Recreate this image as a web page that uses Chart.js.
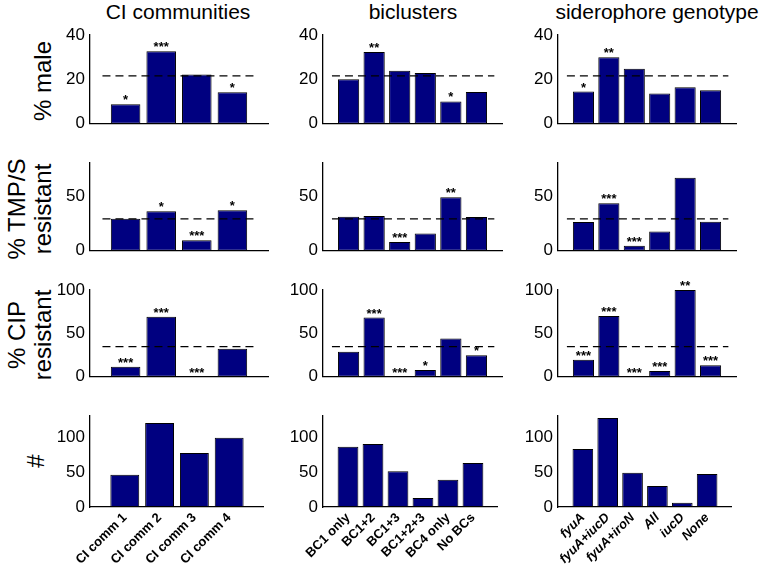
<!DOCTYPE html>
<html>
<head>
<meta charset="utf-8">
<script src="https://cdn.jsdelivr.net/npm/chart.js@4"></script>
<style>
    body { margin: 0; background: #fff; }
    #fig { position: relative; width: 776px; height: 568px; overflow: hidden; font-family: "Liberation Sans", Arial, sans-serif; color: #000; }
    #fig canvas { position: absolute; }
    .coltitle { position: absolute; top: 0; font-size: 21px; line-height: 24px; white-space: nowrap; transform: translateX(-50%); }
    .rowlabel { position: absolute; font-size: 24px; line-height: 26px; text-align: center; white-space: nowrap; transform: translate(-50%, -50%) rotate(-90deg); }
</style>
</head>
<body>
<div id="fig">
    <div class="coltitle" style="left:178px">CI communities</div>
    <div class="coltitle" style="left:413px">biclusters</div>
    <div class="coltitle" style="left:657px">siderophore genotype</div>
    <div class="rowlabel" style="left:43px; top:81px">% male</div>
    <div class="rowlabel" style="left:30px; top:209px">% TMP/S<br>resistant</div>
    <div class="rowlabel" style="left:30px; top:335px">% CIP<br>resistant</div>
    <div class="rowlabel" style="left:36px; top:461px">#</div>
</div>
<script>
// categorias de cada coluna
const ciLabels = ['CI comm 1', 'CI comm 2', 'CI comm 3', 'CI comm 4'];
const bcLabels = ['BC1 only', 'BC1+2', 'BC1+3', 'BC1+2+3', 'BC4 only', 'No BCs'];
const sidLabels = ['fyuA', 'fyuA+iucD', 'fyuA+iroN', 'All', 'iucD', 'None'];

// % male
const maleCI = [8.8, 32.7, 22.2, 14.2];
const maleBC = [20.1, 32.3, 23.9, 22.9, 10.1, 14.3];
const maleSid = [14.5, 30.0, 24.8, 13.6, 16.5, 15.1];
const maleRef = 21.6;
const maleStars = [['*', '***', '', '*'], ['', '**', '', '', '*', ''], ['*', '**', '', '', '', '']];

// % TMP/S resistant
const tmpCI = [29.1, 36.1, 9.6, 36.9];
const tmpBC = [31.1, 31.7, 8.1, 15.7, 48.9, 30.8];
const tmpSid = [26.2, 43.4, 4.7, 17.5, 66.6, 26.5];
const tmpRef = 29;
const tmpStars = [['', '*', '***', '*'], ['', '', '***', '', '**', ''], ['', '***', '***', '', '', '']];

// % CIP resistant
const cipCI = [11.5, 69.3, 0, 32.2];
const cipBC = [28.9, 68.2, 0, 7.8, 44.0, 24.8];
const cipSid = [19.6, 70.0, 0, 6.7, 100, 13.3];
const cipRef = 34.8;
const cipStars = [['***', '***', '***', ''], ['', '***', '***', '*', '', '*'], ['***', '***', '***', '***', '**', '***']];

// contagens (#)
const countCI = [46, 120, 77, 99];
const countBC = [86, 90, 51, 13, 39, 63];
const countSid = [83, 127, 49, 30, 6, 47];

// eixos y: máximo e passo dos ticks
const yMax = [40, 80, 100, 130];
const yStep = [20, 50, 50, 50];

const categories = [ciLabels, bcLabels, sidLabels];
const rows = [
    { values: [maleCI, maleBC, maleSid], ref: maleRef, stars: maleStars },
    { values: [tmpCI, tmpBC, tmpSid], ref: tmpRef, stars: tmpStars },
    { values: [cipCI, cipBC, cipSid], ref: cipRef, stars: cipStars },
    { values: [countCI, countBC, countSid], ref: null, stars: null }
];

// posição das áreas de plot (px)
const plotLeft = [90, 323, 558];
const plotRight = [268, 502, 736];
const plotTop = [35, 163, 290, 416];
const plotBottom = [127, 254, 380, 507];

const FONT = '"Liberation Sans", Arial, sans-serif';

function makeStars(marks) {
    return {
        id: 'stars',
        afterDatasetsDraw(chart) {
            if (!marks) return;
            const meta = chart.getDatasetMeta(1);
            const ctx = chart.ctx;
            ctx.save();
            ctx.font = 'bold 13px ' + FONT;
            ctx.fillStyle = '#000';
            ctx.textAlign = 'center';
            ctx.textBaseline = 'alphabetic';
            meta.data.forEach((bar, i) => {
                if (marks[i]) ctx.fillText(marks[i], bar.x, bar.y);
            });
            ctx.restore();
        }
    };
}

const fig = document.getElementById('fig');

rows.forEach((row, r) => {
    categories.forEach((cats, c) => {
        const bottomRow = r === rows.length - 1;
        const xH = bottomRow ? 62 : 0;
        const padB = bottomRow ? 10 : 12;
        const w = plotRight[c] - plotLeft[c] + 70;
        const h = 20 + plotBottom[r] - plotTop[r] + xH + padB;

        const cv = document.createElement('canvas');
        cv.width = w;
        cv.height = h;
        cv.style.left = (plotLeft[c] - 60) + 'px';
        cv.style.top = (plotTop[r] - 20) + 'px';
        fig.appendChild(cv);

        const n = cats.length;
        const datasets = [
            {
                type: 'bar',
                data: row.values[c].map((v, i) => ({ x: i + 1, y: v })),
                backgroundColor: '#000080',
                borderColor: '#000',
                borderWidth: 1,
                borderSkipped: false,
                barPercentage: 0.83,
                categoryPercentage: 1,
                order: 1
            }
        ];
        if (row.ref !== null) {
            datasets.unshift({
                type: 'line',
                data: [{ x: 0.35, y: row.ref }, { x: n + 0.7, y: row.ref }],
                borderColor: '#000',
                borderWidth: 1.2,
                borderDash: [8, 5],
                pointRadius: 0,
                order: 0
            });
        } else {
            datasets.unshift({ type: 'line', data: [], order: 0 });
        }

        new Chart(cv, {
            type: 'bar',
            data: { datasets: datasets },
            options: {
                responsive: false,
                animation: false,
                layout: { padding: { top: 20, right: 10, bottom: padB, left: 0 } },
                plugins: { legend: { display: false }, tooltip: { enabled: false } },
                scales: {
                    x: {
                        type: 'linear',
                        min: 0,
                        max: n + 1,
                        offset: false,
                        grid: { display: false, drawTicks: false },
                        border: { display: true, color: '#000', width: 1.3 },
                        ticks: {
                            display: bottomRow,
                            stepSize: 1,
                            autoSkip: false,
                            minRotation: 45,
                            maxRotation: 45,
                            padding: 3,
                            color: '#000',
                            font: { family: FONT, size: 13, weight: 'bold', style: c === 2 ? 'italic' : 'normal' },
                            callback: v => cats[v - 1] || ''
                        },
                        afterFit: s => { s.height = xH; }
                    },
                    y: {
                        min: 0,
                        max: yMax[r],
                        grid: { display: false, drawTicks: false },
                        border: { display: true, color: '#000', width: 1.3 },
                        ticks: {
                            stepSize: yStep[r],
                            includeBounds: false,
                            padding: 5,
                            color: '#000',
                            font: { family: FONT, size: 17 }
                        },
                        afterFit: s => { s.width = 60; }
                    }
                }
            },
            plugins: [makeStars(row.stars ? row.stars[c] : null)]
        });
    });
});
</script>
</body>
</html>
